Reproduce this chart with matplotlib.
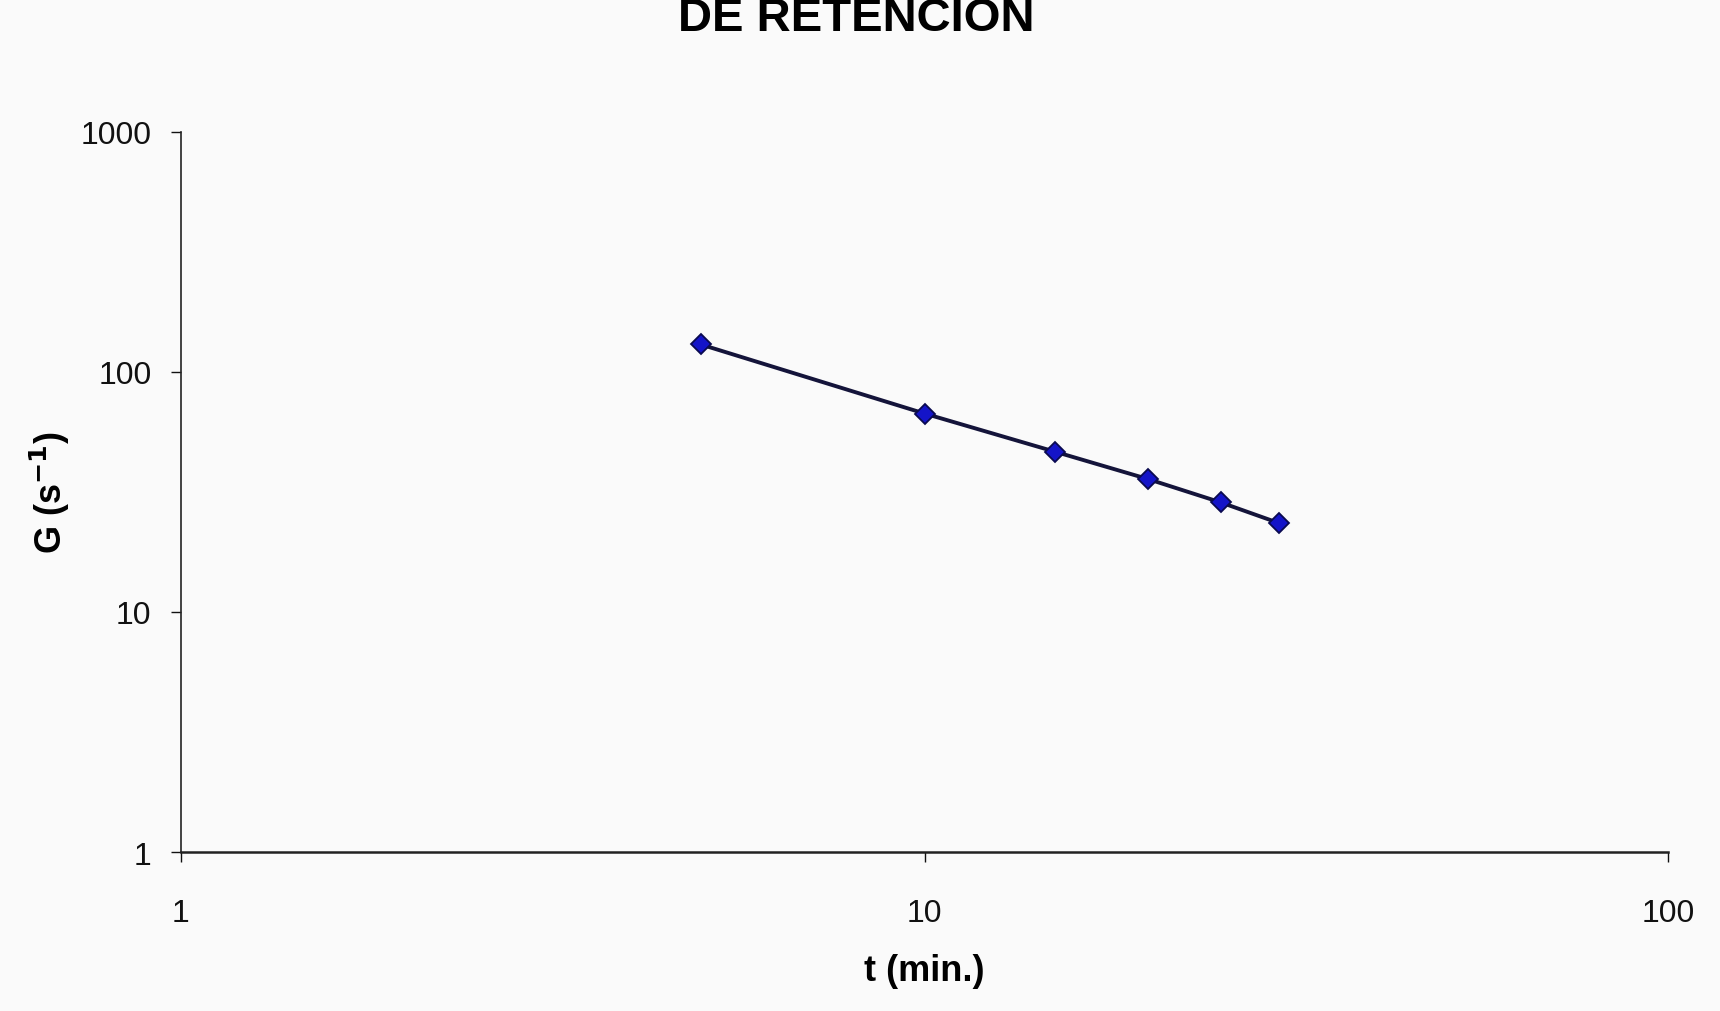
import matplotlib
matplotlib.use("Agg")
import matplotlib.pyplot as plt
from matplotlib.ticker import FixedLocator, FixedFormatter, NullLocator

# Retention time (min) and velocity gradient G (1/s)
t_min = [5, 10, 15, 20, 25, 30]
g_values = [130, 67, 46.4, 35.7, 28.6, 23.4]

x_ticks = [1, 10, 100]
x_tick_labels = ["1", "10", "100"]
y_ticks = [1, 10, 100, 1000]
y_tick_labels = ["1", "10", "100", "1000"]

plt.rcParams["font.family"] = ["Liberation Sans", "DejaVu Sans"]

bg = "#fafafa"
fig = plt.figure(figsize=(17.2, 10.12), dpi=100, facecolor=bg)
ax = fig.add_axes([0.105, 0.157, 0.865, 0.712], facecolor=bg)

ax.plot(t_min, g_values, color="#14143a", linewidth=2.8,
        marker="D", markersize=10.5, markerfacecolor="#1414c8",
        markeredgecolor="#0a0a50", markeredgewidth=1.3, zorder=3)

ax.set_xscale("log")
ax.set_yscale("log")
ax.set_xlim(1, 100)
ax.set_ylim(1, 1000)

ax.xaxis.set_major_locator(FixedLocator(x_ticks))
ax.xaxis.set_major_formatter(FixedFormatter(x_tick_labels))
ax.xaxis.set_minor_locator(NullLocator())
ax.yaxis.set_major_locator(FixedLocator(y_ticks))
ax.yaxis.set_major_formatter(FixedFormatter(y_tick_labels))
ax.yaxis.set_minor_locator(NullLocator())

for side in ("top", "right"):
    ax.spines[side].set_visible(False)
ax.spines["left"].set_color("#222222")
ax.spines["left"].set_linewidth(1.2)
ax.spines["bottom"].set_color("#222222")
ax.spines["bottom"].set_linewidth(1.8)

ax.tick_params(axis="y", direction="out", length=7, width=1, pad=14,
               labelsize=23, colors="#111111")
ax.tick_params(axis="x", direction="out", length=7, width=1, pad=26,
               labelsize=23, colors="#111111")

ax.set_xlabel("t (min.)", fontsize=26, fontweight="bold", labelpad=18)
ax.set_ylabel(r"G (s$^{\mathbf{-1}}$)", fontsize=26, fontweight="bold", labelpad=6)

fig.text(0.498, 0.969, "DE RETENCION", ha="center", va="baseline",
         fontsize=34, fontweight="bold", color="#000000")

fig.savefig("out.png", dpi=100, facecolor=bg)
